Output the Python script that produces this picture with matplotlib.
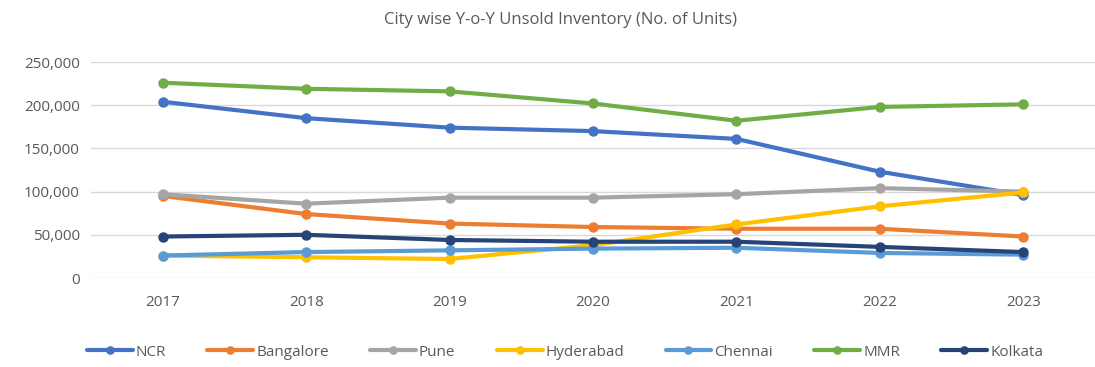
import matplotlib
matplotlib.use("Agg")
import matplotlib.pyplot as plt
from matplotlib.ticker import FuncFormatter

years = ["2017", "2018", "2019", "2020", "2021", "2022", "2023"]
ncr = [204000, 185000, 174000, 170000, 161000, 123000, 96000]
bangalore = [95000, 74000, 63000, 59000, 57000, 57000, 48000]
pune = [97000, 86000, 93000, 93000, 97000, 104000, 100000]
hyderabad = [26000, 24000, 22000, 38000, 62000, 83000, 99000]
chennai = [26000, 30000, 32000, 34000, 35000, 29000, 27000]
mmr = [226000, 219000, 216000, 202000, 182000, 198000, 201000]
kolkata = [48000, 50000, 44000, 42000, 42000, 36000, 30000]

series = [
    ("NCR", ncr, "#4472C4"),
    ("Bangalore", bangalore, "#ED7D31"),
    ("Pune", pune, "#A5A5A5"),
    ("Hyderabad", hyderabad, "#FFC000"),
    ("Chennai", chennai, "#5B9BD5"),
    ("MMR", mmr, "#70AD47"),
    ("Kolkata", kolkata, "#264478"),
]

plt.rcParams["font.family"] = ["Open Sans", "DejaVu Sans"]
text_color = "#595959"

fig = plt.figure(figsize=(10.95, 3.67), dpi=100)
ax = fig.add_axes([91 / 1095, 1 - 278 / 367, 1 - 91 / 1095, (278 - 62) / 367])

x = list(range(len(years)))
for name, vals, color in series:
    ax.plot(x, vals, color=color, lw=3, marker="o", ms=6.5, label=name,
            solid_capstyle="round")

ax.set_xlim(-0.5, len(years) - 0.5)
ax.set_ylim(0, 250000)
ax.set_yticks(range(0, 250001, 50000))
ax.yaxis.set_major_formatter(FuncFormatter(lambda v, p: f"{int(v):,}"))
ax.set_xticks(x)
ax.set_xticklabels(years)
ax.grid(axis="y", color="#D9D9D9", lw=1)
ax.set_axisbelow(True)
for s in ax.spines.values():
    s.set_visible(False)
ax.tick_params(length=0, colors=text_color, labelsize=11)
ax.tick_params(axis="x", pad=12)
ax.tick_params(axis="y", pad=8)

fig.text(560 / 1095, 1 - 20 / 367, "City wise Y-o-Y Unsold Inventory (No. of Units)",
         ha="center", va="center", fontsize=12, color=text_color)

fig.legend(loc="center", bbox_to_anchor=(565 / 1095, 1 - 352 / 367), ncol=7,
           frameon=False, fontsize=11, labelcolor=text_color, handlelength=3.0,
           handletextpad=0.2, columnspacing=2.7, markerscale=0.8)

fig.savefig("out.png", dpi=100)
